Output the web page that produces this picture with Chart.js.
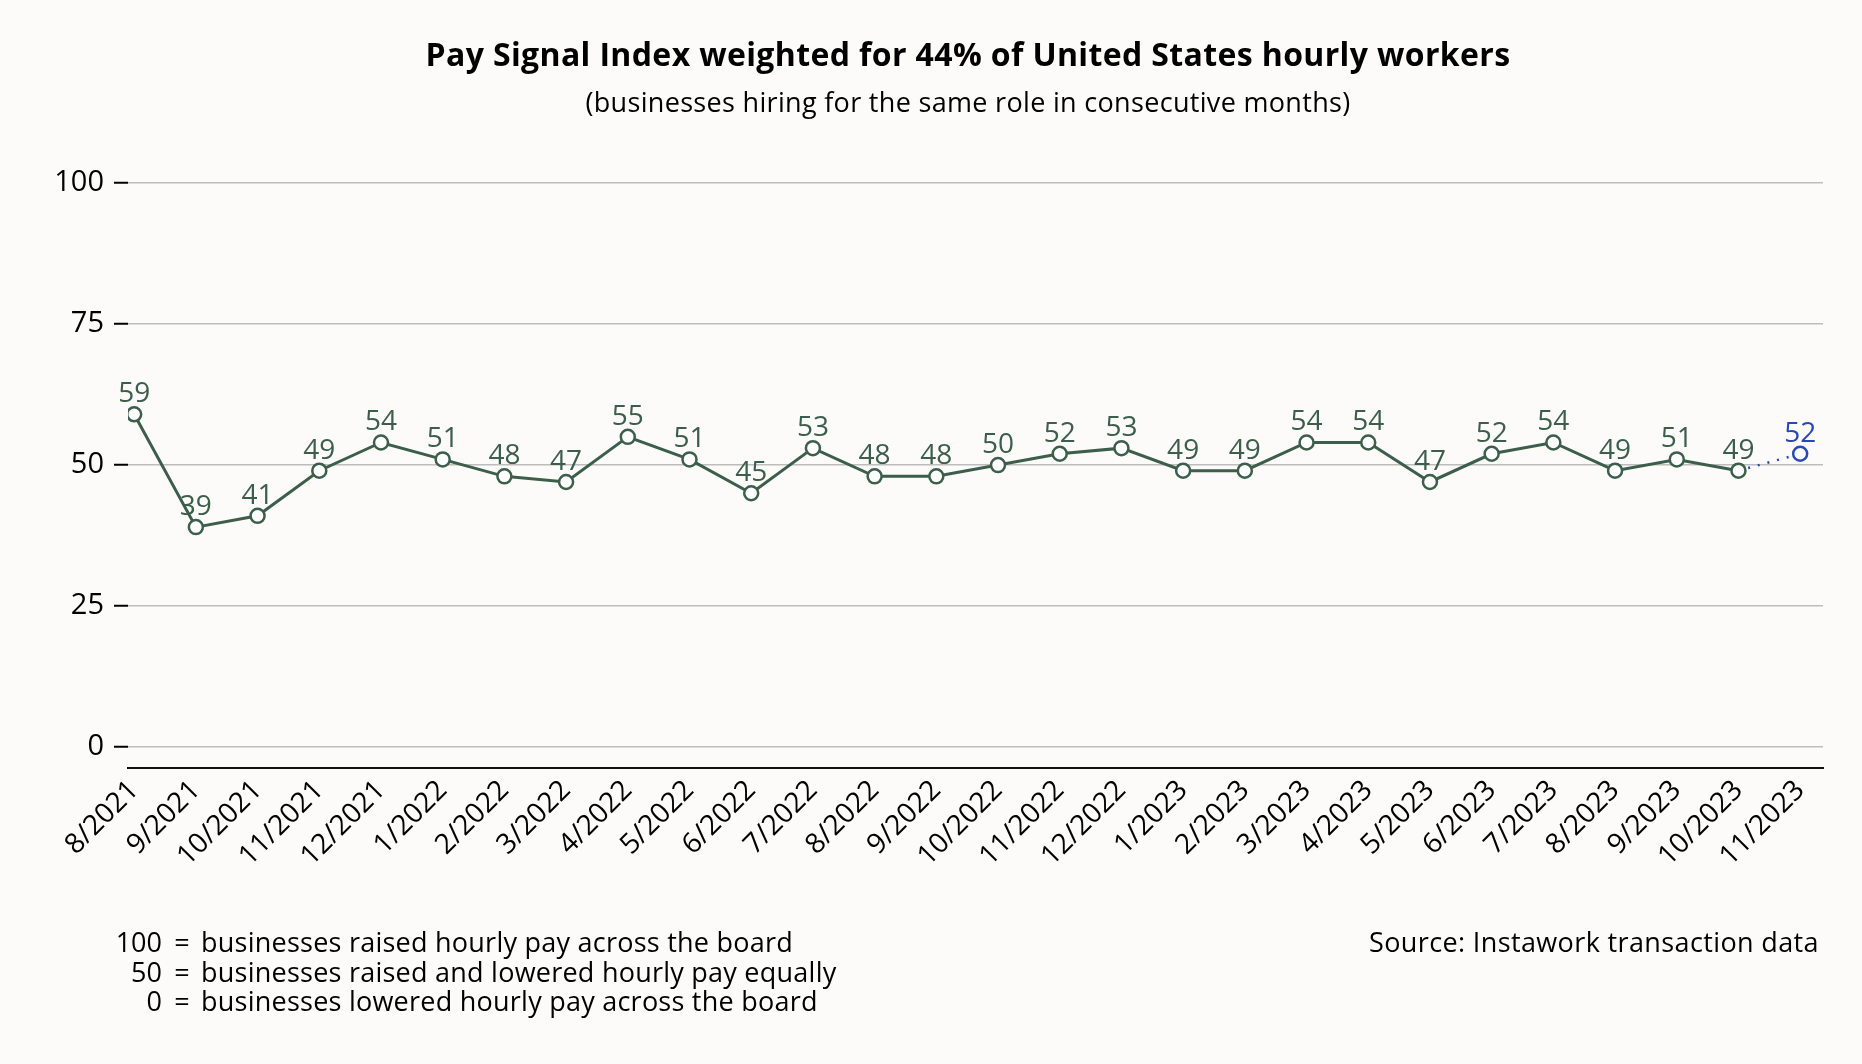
<!DOCTYPE html>
<html>
<head>
<meta charset="utf-8">
<script src="https://cdn.jsdelivr.net/npm/chart.js@4.4.0/dist/chart.umd.min.js"></script>
<style>
  html, body { margin: 0; padding: 0; background: #fcfbfa; }
  #wrap { width: 1862px; height: 1064px; position: relative; }
</style>
</head>
<body>
<div id="wrap"><canvas id="payChart"></canvas></div>
<script>
const months = ['8/2021', '9/2021', '10/2021', '11/2021', '12/2021',
    '1/2022', '2/2022', '3/2022', '4/2022', '5/2022', '6/2022', '7/2022', '8/2022', '9/2022', '10/2022', '11/2022', '12/2022',
    '1/2023', '2/2023', '3/2023', '4/2023', '5/2023', '6/2023', '7/2023', '8/2023', '9/2023', '10/2023', '11/2023'];
const payIndex = [59, 39, 41, 49, 54, 51, 48, 47, 55, 51, 45, 53, 48, 48, 50, 52, 53,
    49, 49, 54, 54, 47, 52, 54, 49, 51, 49, null];
const preliminary = [null, null, null, null, null, null, null, null, null, null, null, null, null, null, null, null, null,
    null, null, null, null, null, null, null, null, null, 49, 52];
const yTicks = [0, 25, 50, 75, 100];

const titleText = 'Pay Signal Index weighted for 44% of United States hourly workers';
const subtitleText = '(businesses hiring for the same role in consecutive months)';
const noteKeys = ['100', '50', '0'];
const noteTexts = ['businesses raised hourly pay across the board',
    'businesses raised and lowered hourly pay equally',
    'businesses lowered hourly pay across the board'];
const sourceText = 'Source: Instawork transaction data';

const green = '#3c5e4b';
const blue = '#2848b9';
const fontFamily = '"Open Sans", Lato, sans-serif';

// letter spacing so that a text takes a given width
function spacingFor(ctx, text, width) {
    ctx.letterSpacing = '0px';
    const w = ctx.measureText(text).width;
    return (width - w) / text.length;
}

function drawSpaced(ctx, text, left, y, spacing) {
    ctx.letterSpacing = spacing + 'px';
    ctx.textAlign = 'left';
    ctx.fillText(text, left, y);
}

// value labels above each point
const pointLabels = {
    id: 'pointLabels',
    afterDatasetsDraw(chart) {
        const ctx = chart.ctx;
        ctx.save();
        ctx.font = '500 28px ' + fontFamily;
        ctx.textAlign = 'center';
        ctx.textBaseline = 'alphabetic';
        chart.data.datasets.forEach((ds, i) => {
            const meta = chart.getDatasetMeta(i);
            meta.data.forEach((pt, j) => {
                const v = ds.data[j].y;
                const r = Array.isArray(ds.pointRadius) ? ds.pointRadius[j] : ds.pointRadius;
                if (v == null || !r) return;
                ctx.fillStyle = ds.borderColor;
                ctx.fillText(String(v), pt.x, pt.y - 12);
            });
        });
        ctx.restore();
    }
};

// title, subtitle and footnotes
const chartTexts = {
    id: 'chartTexts',
    afterDraw(chart) {
        const ctx = chart.ctx;
        ctx.save();
        ctx.fillStyle = '#000';
        ctx.textBaseline = 'middle';

        ctx.font = 'bold 32px ' + fontFamily;
        drawSpaced(ctx, titleText, 968 - 1085 / 2, 57, spacingFor(ctx, titleText, 1085));
        ctx.font = '500 27px ' + fontFamily;
        drawSpaced(ctx, subtitleText, 968 - 765 / 2, 104, spacingFor(ctx, subtitleText, 765));

        ctx.textBaseline = 'alphabetic';
        ctx.font = '500 27px ' + fontFamily;
        const sp = spacingFor(ctx, noteTexts[0], 592);
        noteKeys.forEach((k, i) => {
            const y = 952 + i * 29.5;
            ctx.letterSpacing = '0px';
            ctx.textAlign = 'right';
            ctx.fillText(k, 162, y);
            ctx.textAlign = 'center';
            ctx.fillText('=', 182, y);
            drawSpaced(ctx, noteTexts[i], 201, y, sp);
        });
        drawSpaced(ctx, sourceText, 1819 - 450, 952, spacingFor(ctx, sourceText, 450));
        ctx.restore();
    }
};

const payChart = new Chart(document.getElementById('payChart'), {
    type: 'line',
    data: {
        datasets: [
            {
                label: 'Pay Signal Index',
                data: payIndex.map((v, i) => ({ x: i, y: v })),
                borderColor: green,
                borderWidth: 3,
                pointRadius: 7,
                pointBorderWidth: 2.5,
                pointBackgroundColor: '#ffffff',
                pointBorderColor: green,
                tension: 0
            },
            {
                label: 'Preliminary',
                data: preliminary.map((v, i) => ({ x: i, y: v })),
                borderColor: blue,
                borderWidth: 2.5,
                borderDash: [2, 8],
                pointRadius: preliminary.map((v, i) => i === preliminary.length - 1 ? 7 : 0),
                pointBorderWidth: 2.5,
                pointBackgroundColor: '#ffffff',
                pointBorderColor: blue,
                tension: 0
            }
        ]
    },
    options: {
        responsive: true,
        maintainAspectRatio: false,
        animation: false,
        layout: { padding: { top: 183, right: 39, bottom: 156, left: 0 } },
        plugins: {
            legend: { display: false },
            tooltip: { enabled: false }
        },
        scales: {
            x: {
                type: 'linear',
                min: -0.1,
                max: 27.37,
                afterBuildTicks: (scale) => { scale.ticks = months.map((m, i) => ({ value: i })); },
                afterFit: (scale) => { scale.height = 140; },
                grid: { display: false, drawTicks: false },
                border: { display: true, color: '#111', width: 2 },
                ticks: {
                    autoSkip: false,
                    minRotation: 45,
                    maxRotation: 45,
                    padding: 6,
                    color: '#000',
                    font: { family: fontFamily, size: 28, weight: '500' },
                    callback: (value) => months[value]
                }
            },
            y: {
                min: -3.7,
                max: 100,
                afterBuildTicks: (scale) => { scale.ticks = yTicks.map(v => ({ value: v })); },
                afterFit: (scale) => { scale.width = 128; },
                grid: { color: '#bdbdbd', lineWidth: 1.5, tickColor: '#000', tickLength: 14, tickWidth: 2 },
                border: { display: false },
                ticks: {
                    padding: 10,
                    color: '#000',
                    font: { family: fontFamily, size: 29, weight: '500' }
                }
            }
        }
    },
    plugins: [pointLabels, chartTexts]
});
</script>
</body>
</html>
